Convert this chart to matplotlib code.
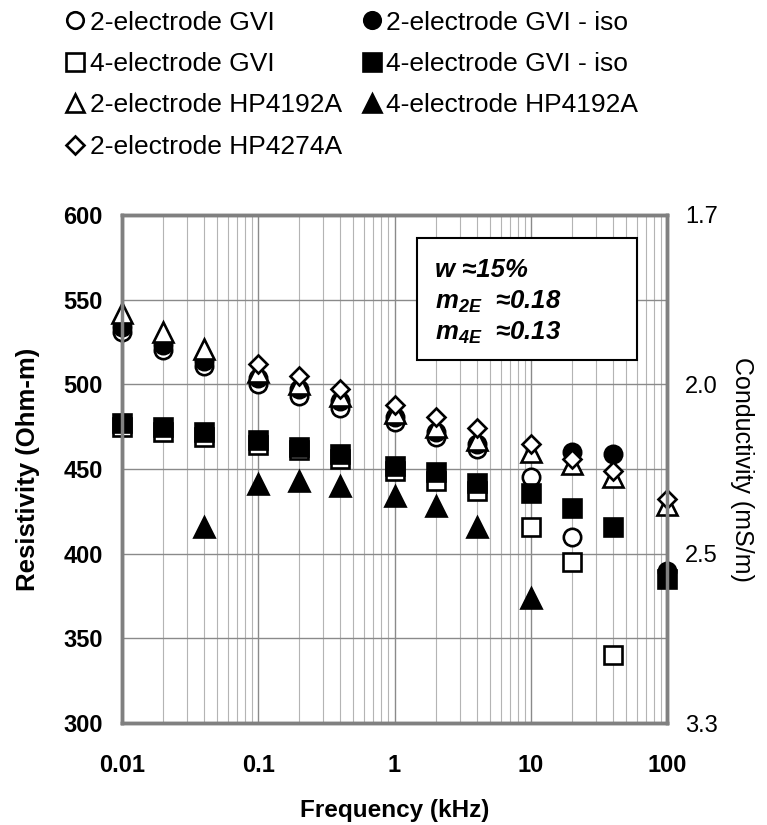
import numpy as np
import matplotlib
matplotlib.use("Agg")
import matplotlib.pyplot as plt
from matplotlib.lines import Line2D
from matplotlib.patches import Rectangle
from matplotlib.ticker import FixedLocator, LogLocator, NullFormatter

plt.rcParams["font.family"] = ["Liberation Sans", "DejaVu Sans"]
plt.rcParams["mathtext.fontset"] = "custom"
plt.rcParams["mathtext.rm"] = "Liberation Sans:bold:italic"
plt.rcParams["mathtext.it"] = "Liberation Sans:bold:italic"
plt.rcParams["mathtext.bf"] = "Liberation Sans:bold:italic"

nan = np.nan

# frecuencias de medida (kHz)
FREQ_KHZ = [0.01, 0.02, 0.04, 0.1, 0.2, 0.4, 1, 2, 4, 10, 20, 40, 100]

# resistividad (Ohm-m), nan = sin dato
RHO_2E_GVI = [531, 520, 511, 500, 493, 486, 478, 469, 462, 445, 410, nan, nan]
RHO_2E_GVI_ISO = [534, 523, 514, 504, 497, 490, 481, 472, 465, nan, 460, 459, 390]
RHO_4E_GVI = [475, 472, 469, 464, 461, 456, 449, 443, 437, 416, 395, 340, nan]
RHO_4E_GVI_ISO = [477, 475, 472, 467, 463, 459, 452, 448, 442, 436, 427, 416, 385]
RHO_2E_HP4192A = [542, 531, 521, 507, 500, 493, 483, 475, 467, 460, 453, 445, 429]
RHO_4E_HP4192A = [nan, nan, 416, 441, 443, 440, 434, 428, 416, 374, nan, nan, nan]
RHO_2E_HP4274A = [nan, nan, nan, 512, 505, 497, 488, 481, 474, 465, 456, 449, 432]

LABELS = ["2-electrode GVI", "2-electrode GVI - iso", "4-electrode GVI",
          "4-electrode GVI - iso", "2-electrode HP4192A", "4-electrode HP4192A",
          "2-electrode HP4274A"]

X_TICKS = [0.01, 0.1, 1, 10, 100]
X_TICK_LABELS = ["0.01", "0.1", "1", "10", "100"]
Y_TICKS = [300, 350, 400, 450, 500, 550, 600]
COND_TICKS_RHO = [600, 500, 400, 300]  # posiciones del eje derecho (en Ohm-m)

ANNOT = ["w \u224815%", "m$_{2E}$  \u22480.18", "m$_{4E}$  \u22480.13"]

# marcador, relleno, tamaño
STYLES = [("o", False, 12.5), ("o", True, 12.5), ("s", False, 13), ("s", True, 13),
          ("^", False, 14), ("^", True, 14), ("D", False, 9.5)]

GRID = "#8a8a8a"
SPINE = "#808080"


def main():
    fig = plt.figure(figsize=(7.67, 8.25), dpi=100)
    ax = fig.add_axes([0.1591, 0.1236, 0.7105, 0.6158])

    series = [RHO_2E_GVI, RHO_2E_GVI_ISO, RHO_4E_GVI, RHO_4E_GVI_ISO,
              RHO_2E_HP4192A, RHO_4E_HP4192A, RHO_2E_HP4274A]
    handles = []
    for vals, label, (mk, filled, ms) in zip(series, LABELS, STYLES):
        face = "black" if filled else "white"
        ax.plot(FREQ_KHZ, vals, linestyle="none", marker=mk, markersize=ms,
                markerfacecolor=face, markeredgecolor="black", markeredgewidth=1.9,
                zorder=3, clip_on=False)
        handles.append(Line2D([], [], linestyle="none", marker=mk, markersize=ms * 0.95,
                              markerfacecolor=face, markeredgecolor="black",
                              markeredgewidth=1.9, label=label))

    ax.set_xscale("log")
    ax.set_xlim(0.01, 100)
    ax.set_ylim(300, 600)
    ax.xaxis.set_major_locator(FixedLocator(X_TICKS))
    ax.set_xticklabels(X_TICK_LABELS)
    ax.xaxis.set_minor_locator(LogLocator(base=10, subs=range(2, 10)))
    ax.xaxis.set_minor_formatter(NullFormatter())
    ax.set_yticks(Y_TICKS)

    ax.grid(which="major", color=GRID, linewidth=1.0)
    ax.grid(which="minor", axis="x", color="#b4b4b4", linewidth=0.8)
    ax.set_axisbelow(True)

    ax.tick_params(axis="both", which="both", length=0)
    ax.tick_params(axis="x", pad=22, labelsize=17)
    ax.tick_params(axis="y", pad=14, labelsize=17)
    for t in ax.get_xticklabels() + ax.get_yticklabels():
        t.set_fontweight("bold")

    ax.set_xlabel("Frequency (kHz)", fontsize=17.5, fontweight="bold", labelpad=16)
    ax.set_ylabel("Resistivity (Ohm-m)", fontsize=18.5, fontweight="bold")
    ax.yaxis.set_label_coords(-0.15, 0.5)

    ax2 = ax.twinx()
    ax2.set_ylim(ax.get_ylim())
    ax2.set_yticks(COND_TICKS_RHO)
    ax2.set_yticklabels([f"{1000 / r:.1f}" for r in COND_TICKS_RHO])
    ax2.tick_params(axis="y", length=0, pad=13, labelsize=17)
    ax2.set_ylabel("Conductivity (mS/m)", fontsize=18, rotation=270, labelpad=26)

    for a in (ax, ax2):
        for sp in a.spines.values():
            sp.set_color(SPINE)
            sp.set_linewidth(2.5)

    # recuadro con los parámetros
    ax.add_patch(Rectangle((0.541, 0.7146), 0.404, 0.240, transform=ax.transAxes,
                           facecolor="white", edgecolor="black", linewidth=1.5, zorder=4))
    for y, line in zip([0.892, 0.829, 0.768], ANNOT):
        ax.text(0.574, y, line, transform=ax.transAxes, fontsize=18.5,
                fontweight="bold", fontstyle="italic", va="center", zorder=5)

    # leyenda en dos columnas, por filas
    order = [0, 2, 4, 6, 1, 3, 5]
    fig.legend([handles[i] for i in order], [LABELS[i] for i in order], ncol=2,
               loc="upper left", bbox_to_anchor=(0.0685, 1.0), frameon=False,
               fontsize=19, handlelength=0.9, handletextpad=0.11,
               columnspacing=0.68, labelspacing=0.66, borderaxespad=0)

    fig.savefig("out.png", dpi=100)


if __name__ == "__main__":
    main()
